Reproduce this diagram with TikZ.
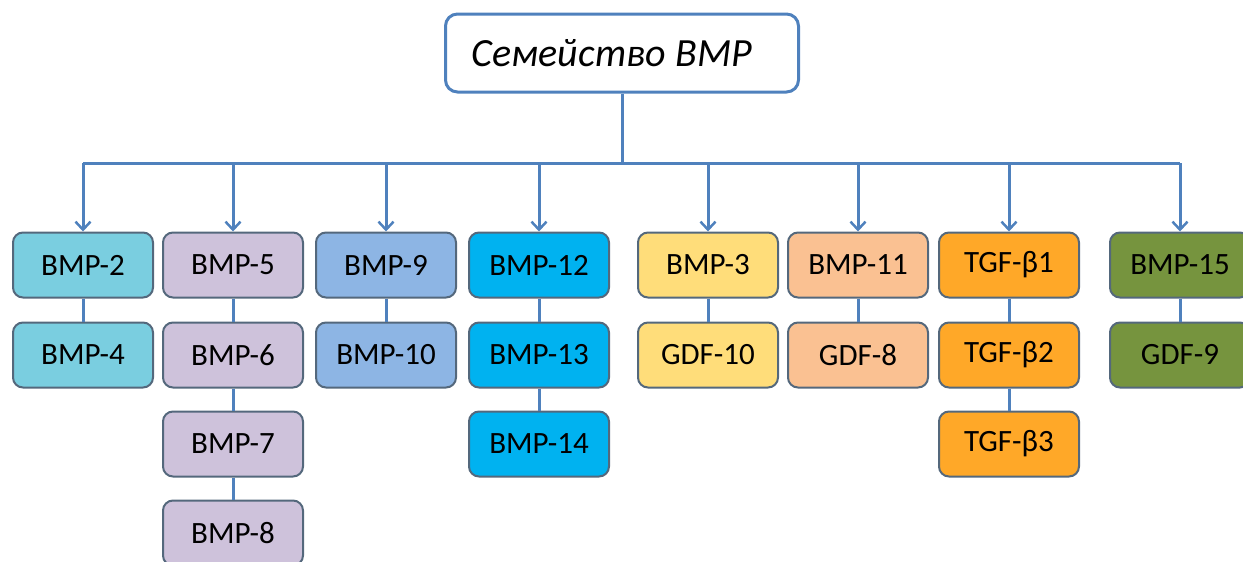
\documentclass[tikz,border=0pt]{standalone}
\usepackage{fontspec}
\setmainfont{Carlito}
\usetikzlibrary{arrows.meta}
\definecolor{linkblue}{RGB}{79,129,189}
\definecolor{boxedge}{RGB}{84,104,124}
\definecolor{cyanfam}{RGB}{122,206,224}
\definecolor{lilacfam}{RGB}{206,194,219}
\definecolor{bluefam}{RGB}{141,181,228}
\definecolor{skyfam}{RGB}{0,178,240}
\definecolor{yellowfam}{RGB}{255,221,122}
\definecolor{peachfam}{RGB}{250,193,146}
\definecolor{orangefam}{RGB}{255,168,40}
\definecolor{greenfam}{RGB}{118,148,62}
\begin{document}
\begin{tikzpicture}[x=1pt,y=-1pt,
  fam/.style={draw=boxedge,line width=2pt,rounded corners=10pt,
    minimum width=140pt,minimum height=65pt,inner sep=0pt,
    font=\fontsize{31}{34}\selectfont},
  link/.style={linkblue,line width=3pt},
  down/.style={link,-{Straight Barb[length=8pt,width=15pt,line width=2.5pt]}}]
\useasboundingbox (0,0) rectangle (1243,562);
\node[draw=linkblue,line width=3pt,rounded corners=12pt,fill=white,
  minimum width=353pt,minimum height=78pt,inner sep=0pt,
  font=\fontsize{40}{44}\selectfont\itshape] (top) at (622,53) {Семейство BMP\kern20pt};
\coordinate (bus) at (0,163);
\node[fam,fill=cyanfam] (b2) at (83,265) {BMP-2};
\node[fam,fill=cyanfam] (b4) at (83,355) {BMP-4};
\node[fam,fill=lilacfam] (b5) at (233,265) {BMP-5};
\node[fam,fill=lilacfam] (b6) at (233,355) {BMP-6};
\node[fam,fill=lilacfam] (b7) at (233,444) {BMP-7};
\node[fam,fill=lilacfam] (b8) at (233,533) {BMP-8};
\node[fam,fill=bluefam] (b9) at (386,265) {BMP-9};
\node[fam,fill=bluefam] (b10) at (386,355) {BMP-10};
\node[fam,fill=skyfam] (b12) at (539,265) {BMP-12};
\node[fam,fill=skyfam] (b13) at (539,355) {BMP-13};
\node[fam,fill=skyfam] (b14) at (539,444) {BMP-14};
\node[fam,fill=yellowfam] (b3) at (708,265) {BMP-3};
\node[fam,fill=yellowfam] (g10) at (708,355) {GDF-10};
\node[fam,fill=peachfam] (b11) at (858,265) {BMP-11};
\node[fam,fill=peachfam] (g8) at (858,355) {GDF-8};
\node[fam,fill=orangefam] (t1) at (1009,265) {TGF-β1};
\node[fam,fill=orangefam] (t2) at (1009,355) {TGF-β2};
\node[fam,fill=orangefam] (t3) at (1009,444) {TGF-β3};
\node[fam,fill=greenfam] (b15) at (1180,265) {BMP-15};
\node[fam,fill=greenfam] (g9) at (1180,355) {GDF-9};
\draw[link] (top.south) -- (top.south |- bus);
\draw[link] (b2 |- bus) -- (b15 |- bus);
\draw[down] (b2 |- bus) -- (b2.north);
\draw[down] (b5 |- bus) -- (b5.north);
\draw[down] (b9 |- bus) -- (b9.north);
\draw[down] (b12 |- bus) -- (b12.north);
\draw[down] (b3 |- bus) -- (b3.north);
\draw[down] (b11 |- bus) -- (b11.north);
\draw[down] (t1 |- bus) -- (t1.north);
\draw[down] (b15 |- bus) -- (b15.north);
\draw[link] (b2) -- (b4);
\draw[link] (b5) -- (b6);
\draw[link] (b6) -- (b7);
\draw[link] (b7) -- (b8);
\draw[link] (b9) -- (b10);
\draw[link] (b12) -- (b13);
\draw[link] (b13) -- (b14);
\draw[link] (b3) -- (g10);
\draw[link] (b11) -- (g8);
\draw[link] (t1) -- (t2);
\draw[link] (t2) -- (t3);
\draw[link] (b15) -- (g9);
\end{tikzpicture}
\end{document}
